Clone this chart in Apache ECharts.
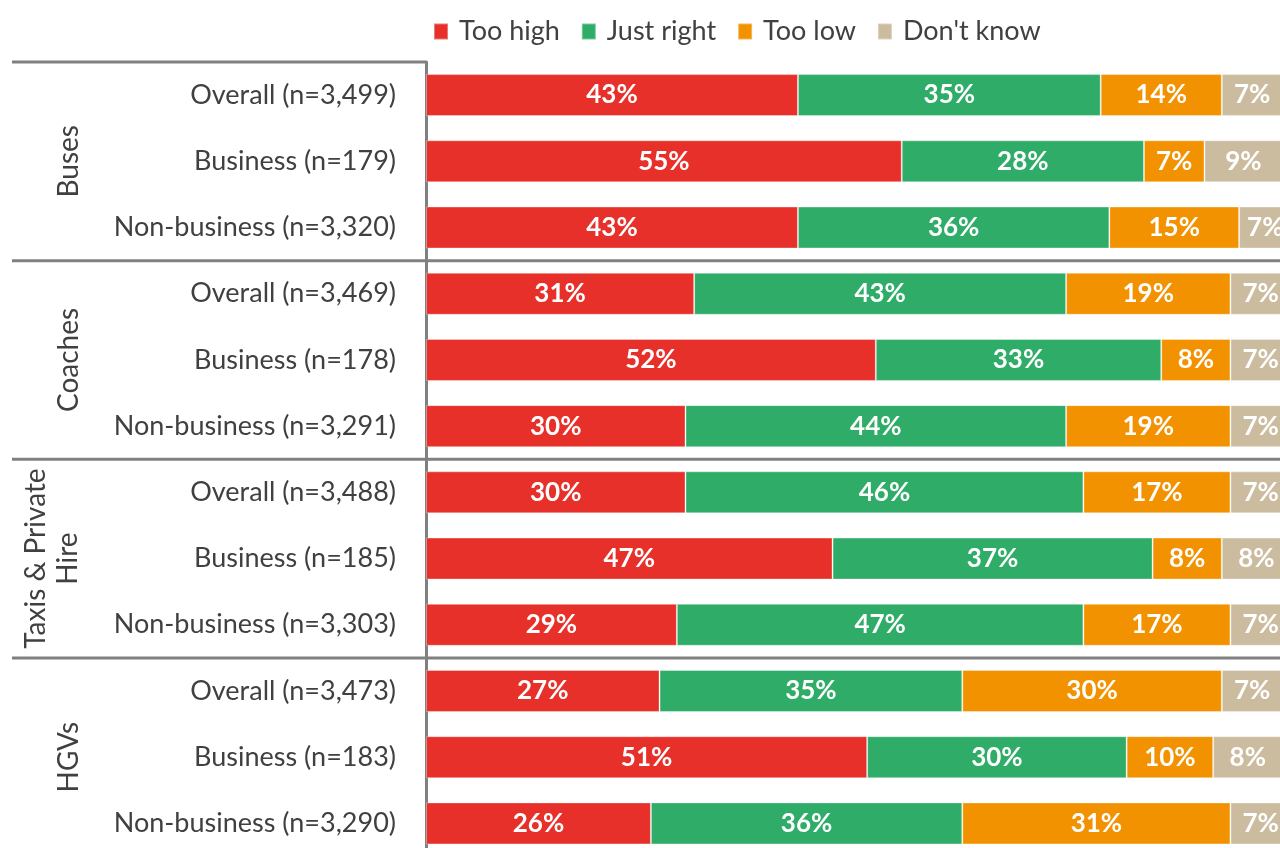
<!DOCTYPE html>
<html>
<head>
<meta charset="utf-8">
<script src="https://cdn.jsdelivr.net/npm/echarts@6/dist/echarts.min.js"></script>
<style>
  html, body { margin: 0; padding: 0; background: #ffffff; }
  #chart { width: 1280px; height: 848px; }
</style>
</head>
<body>
<div id="chart"></div>
<script>
// Row labels, top to bottom
const categories = [
  'Overall (n=3,499)', 'Business (n=179)', 'Non-business (n=3,320)',
  'Overall (n=3,469)', 'Business (n=178)', 'Non-business (n=3,291)',
  'Overall (n=3,488)', 'Business (n=185)', 'Non-business (n=3,303)',
  'Overall (n=3,473)', 'Business (n=183)', 'Non-business (n=3,290)'
];
// Mode groups, each spanning three rows
const groups = ['Buses', 'Coaches', 'Taxis & Private\nHire', 'HGVs'];
const groupSize = 3;

const seriesNames = ['Too high', 'Just right', 'Too low', "Don't know"];
const tooHigh   = [43, 55, 43, 31, 52, 30, 30, 47, 29, 27, 51, 26];
const justRight = [35, 28, 36, 43, 33, 44, 46, 37, 47, 35, 30, 36];
const tooLow    = [14,  7, 15, 19,  8, 19, 17,  8, 17, 30, 10, 31];
const dontKnow  = [ 7,  9,  7,  7,  7,  7,  7,  8,  7,  7,  8,  7];

const colors = ['#E7302A', '#2FAC68', '#F29200', '#CCBC9F'];
const FONT = 'Lato';
const TEXT = '#404040';
const RULE = '#808080';

const chart = echarts.init(document.getElementById('chart'));

function barSeries(name, data, color) {
  return {
    name: name,
    type: 'bar',
    stack: 'total',
    data: data,
    barWidth: 42,
    itemStyle: { color: color, borderColor: 'rgba(255,255,255,0.35)', borderWidth: 1 },
    label: {
      show: true,
      position: 'inside',
      formatter: '{c}%',
      color: '#ffffff',
      fontFamily: FONT,
      fontWeight: 'bold',
      fontSize: 26
    }
  };
}

chart.setOption({
  animation: false,
  color: colors,
  textStyle: { fontFamily: FONT },
  legend: {
    data: seriesNames,
    left: 428,
    top: 13,
    icon: 'rect',
    itemWidth: 14,
    itemHeight: 16,
    itemGap: 21,
    textStyle: { fontFamily: FONT, fontSize: 27, color: TEXT, padding: [0, 0, 0, 6] }
  },
  // plot area runs past the right and bottom edges of the canvas
  grid: {
    left: 426, top: 62, width: 865, height: 794.5,
    containLabel: false,
    outerBoundsMode: 'none'
  },
  xAxis: {
    type: 'value',
    min: 0,
    max: 100,
    show: false
  },
  yAxis: {
    type: 'category',
    inverse: true,
    data: categories,
    axisLine: { show: true, lineStyle: { color: RULE, width: 3 } },
    axisTick: { show: false },
    axisLabel: { color: TEXT, fontFamily: FONT, fontSize: 27, margin: 30 }
  },
  series: [
    barSeries(seriesNames[0], tooHigh, colors[0]),
    barSeries(seriesNames[1], justRight, colors[1]),
    barSeries(seriesNames[2], tooLow, colors[2]),
    barSeries(seriesNames[3], dontKnow, colors[3])
  ]
});

// Group separators and rotated group titles, placed from the category scale
function drawGroups() {
  const y0 = chart.convertToPixel({ yAxisIndex: 0 }, 0);
  const y1 = chart.convertToPixel({ yAxisIndex: 0 }, 1);
  const band = y1 - y0;
  const axisX = chart.convertToPixel({ xAxisIndex: 0 }, 0);
  const elements = [];
  for (let g = 0; g <= groups.length; g++) {
    const yEdge = y0 - band / 2 + g * groupSize * band;
    const xEnd = (g === 0) ? axisX : chart.getWidth();
    elements.push({
      type: 'line',
      shape: { x1: 12, y1: yEdge, x2: xEnd, y2: yEdge },
      style: { stroke: RULE, lineWidth: 3 },
      z: 10
    });
  }
  groups.forEach(function (name, g) {
    const yMid = y0 - band / 2 + (g + 0.5) * groupSize * band;
    const lines = name.split('\n').length;
    elements.push({
      type: 'text',
      x: lines > 1 ? 52 : 69,
      y: yMid,
      rotation: Math.PI / 2,
      style: {
        text: name,
        fill: TEXT,
        font: '28px ' + FONT,
        textAlign: 'center',
        textVerticalAlign: 'middle',
        lineHeight: 32
      },
      z: 10
    });
  });
  chart.setOption({ graphic: elements });
}
drawGroups();
</script>
</body>
</html>
